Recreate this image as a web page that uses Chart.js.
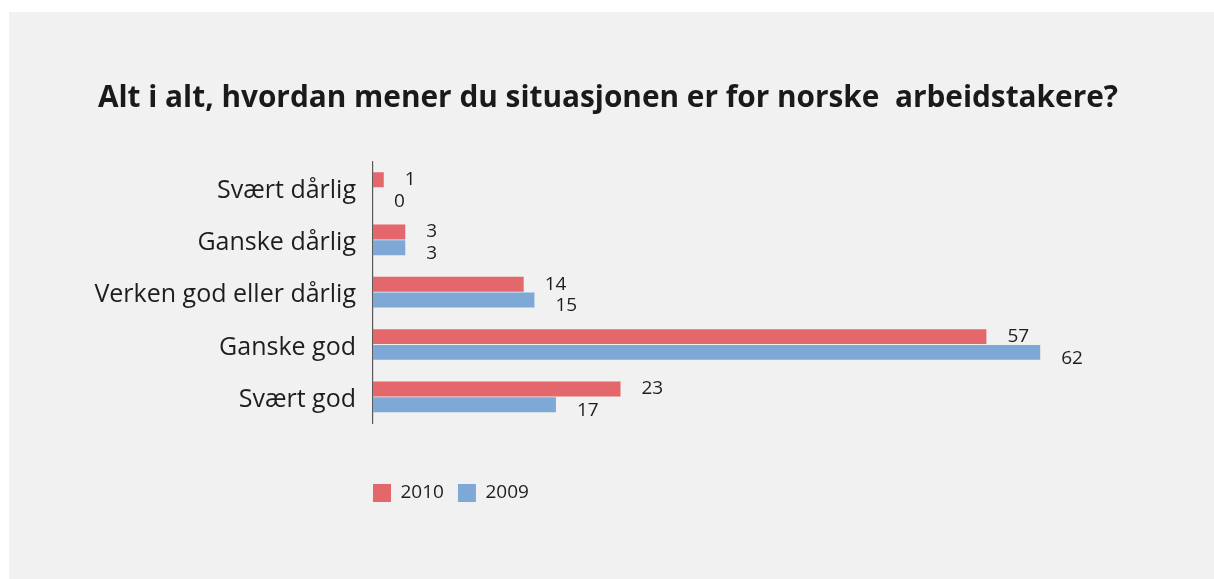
<!DOCTYPE html>
<html>
<head>
<meta charset="utf-8">
<script src="https://cdn.jsdelivr.net/npm/chart.js@4.4.1/dist/chart.umd.min.js"></script>
<style>
  html, body { margin: 0; padding: 0; background: #ffffff; }
  #panel { position: absolute; left: 9px; top: 12px; width: 1205px; height: 567px; background: #f1f1f1; }
  canvas { display: block; }
</style>
</head>
<body>
<div id="panel"><canvas id="c" width="1205" height="567"></canvas></div>
<script>
const titleText = 'Alt i alt, hvordan mener du situasjonen er for norske  arbeidstakere?';
const categories = ['Svært dårlig', 'Ganske dårlig', 'Verken god eller dårlig', 'Ganske god', 'Svært god'];
const seriesNames = ['2010', '2009'];
const values2010 = [1, 3, 14, 57, 23];
const values2009 = [0, 3, 15, 62, 17];

const FONT = "'Open Sans', 'Noto Sans', sans-serif";

const valueLabels = {
  id: 'valueLabels',
  afterDatasetsDraw(chart) {
    const ctx = chart.ctx;
    ctx.save();
    ctx.font = '19px ' + FONT;
    ctx.fillStyle = '#1e1e1e';
    ctx.textAlign = 'left';
    ctx.textBaseline = 'middle';
    chart.data.datasets.forEach((ds, i) => {
      const meta = chart.getDatasetMeta(i);
      meta.data.forEach((el, j) => {
        const dy = i === 0 ? 0 : 6;
        ctx.fillText(String(ds.data[j]), el.x + 21, el.y + dy);
      });
    });
    ctx.restore();
  }
};

const shiftLegend = {
  id: 'shiftLegend',
  afterLayout(chart) {
    const lg = chart.legend;
    if (lg) {
      const p = lg.options.labels.padding;
      lg.left -= p;
      lg.right -= p;
    }
  }
};

new Chart(document.getElementById('c'), {
  type: 'bar',
  data: {
    labels: categories,
    datasets: [
      { label: seriesNames[0], data: values2010, backgroundColor: '#e3676b', borderWidth: 0 },
      { label: seriesNames[1], data: values2009, backgroundColor: '#7ea9d7', borderWidth: 0 }
    ]
  },
  options: {
    indexAxis: 'y',
    responsive: false,
    animation: false,
    categoryPercentage: 0.6,
    barPercentage: 0.95,
    layout: { padding: { top: 20, left: 0, right: 7, bottom: 66.5 } },
    scales: {
      x: {
        min: 0, max: 77.5,
        display: true,
        grid: { display: false, drawTicks: false },
        border: { display: false },
        ticks: { display: false },
        afterFit(scale) { scale.height = 46.5; }
      },
      y: {
        grid: { display: false, drawTicks: false },
        border: { display: true, color: '#5a5a5a', width: 1.2 },
        ticks: { color: '#1e1e1e', font: { family: FONT, size: 25 }, padding: 17, labelOffset: 3 },
        afterFit(scale) { scale.width = 364; }
      }
    },
    plugins: {
      title: {
        display: true,
        text: titleText,
        color: '#1a1a1a',
        font: { family: FONT, size: 29.8, weight: 'bold' },
        padding: { top: 48.5, bottom: 45.1 }
      },
      legend: {
        position: 'bottom',
        align: 'start',
        fullSize: false,
        labels: {
          boxWidth: 18, boxHeight: 18, padding: 14,
          color: '#1e1e1e',
          font: { family: FONT, size: 19 }
        }
      },
      tooltip: { enabled: false }
    }
  },
  plugins: [valueLabels, shiftLegend]
});
</script>
</body>
</html>
